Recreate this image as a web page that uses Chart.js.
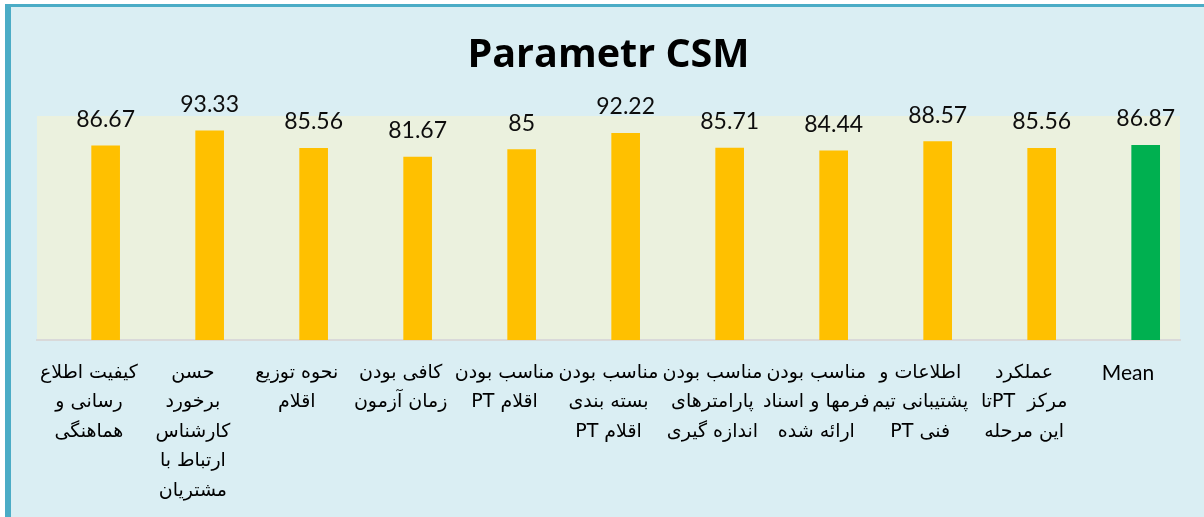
<!DOCTYPE html>
<html>
<head>
<meta charset="utf-8">
<script src="https://cdn.jsdelivr.net/npm/chart.js@4/dist/chart.umd.min.js"></script>
<style>
html, body { margin: 0; padding: 0; background: #ffffff; }
#frame { position: absolute; left: 5px; top: 4px; width: 1199px; height: 513px; background: #DAEEF3;
  border-left: 6px solid #4BACC6; border-top: 3px solid #4BACC6; box-sizing: border-box; }
#wrap { position: absolute; left: 0; top: 0; width: 1204px; height: 517px; }
canvas { direction: rtl; }
</style>
</head>
<body>
<div id="frame"></div>
<div id="wrap"><canvas id="c" dir="rtl" width="1204" height="517"></canvas></div>
<script>
// ---- data ----
const categories = [
  ["کیفیت اطلاع", "رسانی و", "هماهنگی"],
  ["حسن", "برخورد", "کارشناس", "ارتباط با", "مشتریان"],
  ["نحوه توزیع", "اقلام"],
  ["کافی بودن", "زمان آزمون"],
  ["مناسب بودن", "اقلام PT"],
  ["مناسب بودن", "بسته بندی", "اقلام PT"],
  ["مناسب بودن", "پارامترهای", "اندازه گیری"],
  ["مناسب بودن", "فرمها و اسناد", "ارائه شده"],
  ["اطلاعات و", "پشتیبانی تیم", "فنی PT"],
  ["عملکرد", "مرکز  PTتا", "این مرحله"],
  "Mean"
];
const values = [86.67, 93.33, 85.56, 81.67, 85, 92.22, 85.71, 84.44, 88.57, 85.56, 86.87];
const titleText = "Parametr CSM";
const yMin = 0;
const yMax = 100;

// ---- styles ----
const barColor = "#FFC000";
const meanColor = "#00B050";
const plotBg = "#EBF1DE";

const plotBackground = {
  id: "plotBackground",
  beforeDraw(chart) {
    const a = chart.chartArea, ctx = chart.ctx;
    ctx.save();
    ctx.fillStyle = plotBg;
    ctx.fillRect(a.left, a.top, a.right - a.left, a.bottom - a.top);
    ctx.restore();
  }
};

const valueLabels = {
  id: "valueLabels",
  afterDatasetsDraw(chart) {
    const ctx = chart.ctx;
    const meta = chart.getDatasetMeta(0);
    ctx.save();
    ctx.font = "23px Lato";
    ctx.fillStyle = "#0D0D0D";
    ctx.textAlign = "center";
    ctx.textBaseline = "alphabetic";
    meta.data.forEach((bar, i) => {
      ctx.fillText(String(values[i]), bar.x, bar.y - 19);
    });
    ctx.restore();
  }
};

new Chart(document.getElementById("c"), {
  type: "bar",
  data: {
    labels: categories,
    datasets: [{
      data: values.map((v, i) => ({ x: i, y: v })),
      xAxisID: "xb",
      yAxisID: "y",
      barThickness: 28,
      backgroundColor: (c) => (categories[c.dataIndex] === "Mean" ? meanColor : barColor),
      borderWidth: 0
    }]
  },
  options: {
    responsive: false,
    animation: false,
    layout: { padding: { left: 37, right: 24, top: 0, bottom: 0 } },
    plugins: {
      legend: { display: false },
      tooltip: { enabled: false },
      title: {
        display: true,
        text: titleText,
        color: "#000000",
        font: { family: "'Open Sans'", size: 39.5, weight: "bold", lineHeight: 1.2 },
        padding: { top: 32.3, bottom: 36.3 }
      }
    },
    scales: {
      x: {
        type: "category",
        position: "bottom",
        offset: true,
        grid: { display: false, drawTicks: false },
        border: { display: true, color: "#D9D9D9", width: 2 },
        ticks: {
          autoSkip: false,
          maxRotation: 0,
          minRotation: 0,
          padding: 18,
          color: "#000000",
          font: (c) => (categories[c.index] === "Mean"
            ? { family: "Lato", size: 21, lineHeight: "29.5px" }
            : { family: "'DejaVu Sans'", size: 19, lineHeight: "29.5px" })
        },
        afterFit: (s) => { s.height = 177; }
      },
      xb: {
        type: "linear",
        display: false,
        offset: false,
        min: -0.66,
        max: 10.33
      },
      y: {
        display: false,
        min: yMin,
        max: yMax
      }
    }
  },
  plugins: [plotBackground, valueLabels]
});
</script>
</body>
</html>
